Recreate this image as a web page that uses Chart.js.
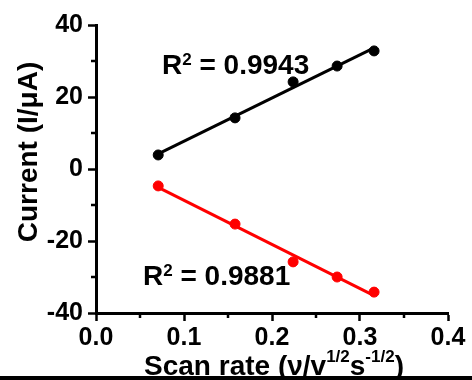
<!DOCTYPE html>
<html>
	<head>
		<meta charset="UTF-8" />
		<title>Current vs scan rate</title>
		<style type="text/css">
body { margin: 0; background: #fff; }
.chartBox { width: 472px; height: 376px; }
.bar { width: 472px; height: 4px; background: #000; }
		</style>
	</head>
	<body>
		<script src="https://cdn.jsdelivr.net/npm/chart.js@4/dist/chart.umd.min.js"></script>
		<div class="chartBox">
			<canvas id="myChart" width="472" height="376"></canvas>
		</div>
		<div class="bar"></div>
		<script charset="utf-8">
			// scan rate^(1/2) values and peak currents
			const scanRates = [0.0707, 0.158, 0.224, 0.274, 0.316];
			const anodic = [3.9, 14.2, 24.2, 28.6, 32.8];
			const cathodic = [-4.7, -15.3, -25.8, -30.0, -34.2];
			const r2Labels = ['0.9943', '0.9881'];
			const yMinor = [-30, -10, 10, 30];
			const xMinor = [0.05, 0.15, 0.25, 0.35];

			const FONT = 'Liberation Sans, Arial, sans-serif';

			function points(xs, ys) {
				return xs.map((x, i) => ({x: x, y: ys[i]}));
			}

			// least squares line, drawn between first and last x
			function fitLine(xs, ys) {
				var n = xs.length, sx = 0, sy = 0, sxx = 0, sxy = 0;
				for (var i = 0; i < n; i++) {
					sx += xs[i]; sy += ys[i]; sxx += xs[i] * xs[i]; sxy += xs[i] * ys[i];
				}
				var m = (n * sxy - sx * sy) / (n * sxx - sx * sx);
				var b = (sy - m * sx) / n;
				return [xs[0], xs[n - 1]].map(x => ({x: x, y: m * x + b}));
			}

			function drawSup(ctx, parts, x, y, align) {
				// parts: [text, size, raise]
				var total = 0;
				parts.forEach(p => { ctx.font = 'bold ' + p[1] + 'px ' + FONT; total += ctx.measureText(p[0]).width; });
				var cx = align === 'center' ? x - total / 2 : x;
				parts.forEach(p => {
					ctx.font = 'bold ' + p[1] + 'px ' + FONT;
					ctx.fillText(p[0], cx, y - p[2]);
					cx += ctx.measureText(p[0]).width;
				});
			}

			const extras = {
				id: 'extras',
				afterDraw(chart) {
					const ctx = chart.ctx;
					const xs = chart.scales.x, ys = chart.scales.y;
					ctx.save();
					ctx.strokeStyle = '#000';
					ctx.lineWidth = 2.5;
					ctx.beginPath();
					yMinor.forEach(v => {
						var py = ys.getPixelForValue(v);
						ctx.moveTo(xs.left - 5, py); ctx.lineTo(xs.left, py);
					});
					xMinor.forEach(v => {
						var px = xs.getPixelForValue(v);
						ctx.moveTo(px, ys.bottom); ctx.lineTo(px, ys.bottom + 5);
					});
					ctx.stroke();

					ctx.fillStyle = '#000';
					ctx.textBaseline = 'alphabetic';
					ctx.textAlign = 'left';
					drawSup(ctx, [['R', 28, 0], ['2', 17, 9], [' = ' + r2Labels[0], 28, 0]], 162, 74);
					drawSup(ctx, [['R', 28, 0], ['2', 17, 9], [' = ' + r2Labels[1], 28, 0]], 143, 285);

					drawSup(ctx, [['Scan rate (\u03bd/v', 28, 0], ['1/2', 17, 13], ['s', 28, 0], ['-1/2', 17, 13], [')', 28, 0]],
						(xs.left + xs.right) / 2 + 2, 375, 'center');

					ctx.translate(29, 152);
					ctx.rotate(-Math.PI / 2);
					ctx.textAlign = 'center';
					ctx.textBaseline = 'middle';
					ctx.font = 'bold 28px ' + FONT;
					ctx.fillText('Current (I/\u03bcA)', 0, 0);
					ctx.restore();
				}
			};

			const data = {
				datasets: [
					{data: fitLine(scanRates, anodic), showLine: true, borderColor: '#000', borderWidth: 3, pointRadius: 0},
					{data: fitLine(scanRates, cathodic), showLine: true, borderColor: '#ff0000', borderWidth: 3, pointRadius: 0},
					{data: points(scanRates, anodic), backgroundColor: '#000', borderColor: '#000', pointRadius: 5},
					{data: points(scanRates, cathodic), backgroundColor: '#ff0000', borderColor: '#ff0000', pointRadius: 5}
				]
			};

			const config = {
				type: 'scatter',
				data,
				plugins: [extras],
				options: {
					responsive: false,
					animation: false,
					devicePixelRatio: 1,
					layout: {padding: {left: 0, top: 25, right: 24, bottom: 0}},
					plugins: {legend: {display: false}, tooltip: {enabled: false}},
					scales: {
						x: {
							type: 'linear',
							min: 0, max: 0.4,
							afterFit: s => { s.height = 63; },
							border: {display: true, color: '#000', width: 3},
							grid: {drawOnChartArea: false, drawTicks: true, tickLength: 8, tickWidth: 2.5, tickColor: '#000'},
							ticks: {stepSize: 0.1, color: '#000', padding: 2, maxRotation: 0,
								font: {family: FONT, size: 25, weight: 'bold'},
								callback: v => v.toFixed(1)}
						},
						y: {
							min: -40, max: 40,
							afterFit: s => { s.width = 96; },
							border: {display: true, color: '#000', width: 3},
							grid: {drawOnChartArea: false, drawTicks: true, tickLength: 8, tickWidth: 2.5, tickColor: '#000'},
							ticks: {stepSize: 20, color: '#000', padding: 5,
								font: {family: FONT, size: 25, weight: 'bold'}}
						}
					}
				}
			};

			var ctx = document.getElementById('myChart').getContext('2d');
			var myChart = new Chart(ctx, config);
		</script>
	</body>
</html>
